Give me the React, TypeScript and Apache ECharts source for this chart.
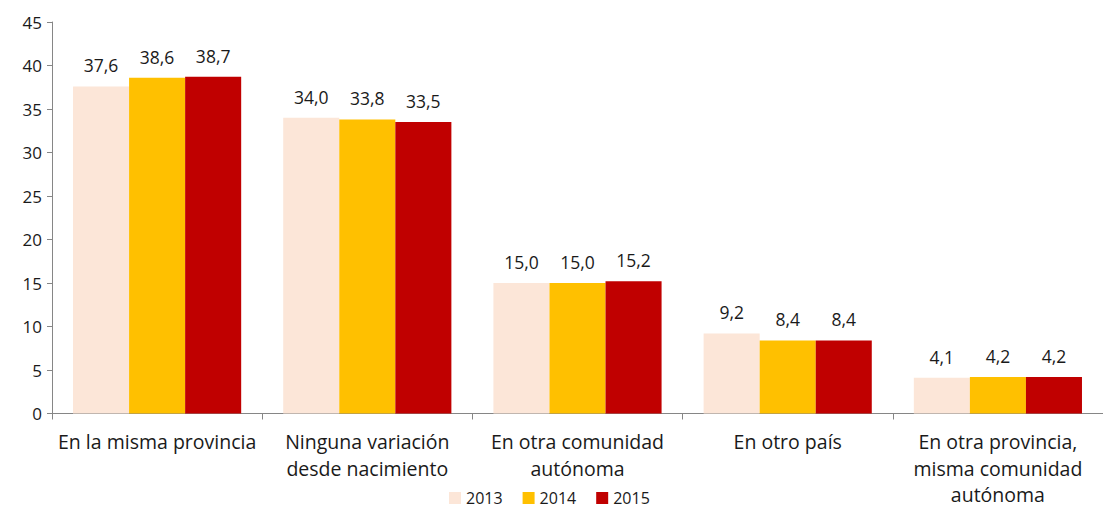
import React, { useEffect, useRef } from "react";
import * as echarts from "echarts";

const categories = [
  "En la misma provincia",
  "Ninguna variación\ndesde nacimiento",
  "En otra comunidad\nautónoma",
  "En otro país",
  "En otra provincia,\nmisma comunidad\nautónoma",
];
const years = ["2013", "2014", "2015"];
const values2013 = [37.6, 34.0, 15.0, 9.2, 4.1];
const values2014 = [38.6, 33.8, 15.0, 8.4, 4.2];
const values2015 = [38.7, 33.5, 15.2, 8.4, 4.2];
const colors = ["#FCE6D8", "#FFC000", "#C00000"];

const FONT = "'Open Sans', 'Noto Sans', sans-serif";

export default function App() {
  const ref = useRef<HTMLDivElement>(null);
  useEffect(() => {
    if (!ref.current) return;
    const chart = echarts.init(ref.current, null, { renderer: "svg" });
    const seriesData = [values2013, values2014, values2015];
    chart.setOption({
      animation: false,
      backgroundColor: "#ffffff",
      grid: { left: 52, top: 22, bottom: 94, width: 1063, containLabel: false },
      legend: {
        left: 449,
        top: 490,
        padding: 0,
        itemWidth: 12,
        itemHeight: 12,
        itemGap: 20,
        icon: "rect",
        textStyle: { fontFamily: FONT, fontSize: 16, lineHeight: 16, color: "#1a1a1a" },
        data: years,
      },
      xAxis: {
        type: "category",
        data: categories,
        axisLine: { lineStyle: { color: "#868686", width: 1 } },
        axisTick: { show: true, length: 6, lineStyle: { color: "#868686" } },
        axisLabel: {
          fontFamily: FONT,
          fontSize: 19.5,
          color: "#1a1a1a",
          lineHeight: 26.5,
          margin: 15,
          interval: 0,
        },
      },
      yAxis: {
        type: "value",
        min: 0,
        max: 45,
        interval: 5,
        axisLine: { show: true, lineStyle: { color: "#868686", width: 1 } },
        axisTick: { show: true, length: 5, lineStyle: { color: "#868686" } },
        splitLine: { show: false },
        axisLabel: { fontFamily: FONT, fontSize: 17, color: "#1a1a1a", margin: 10 },
      },
      series: years.map((y, i) => ({
        name: y,
        type: "bar",
        data: seriesData[i],
        barGap: "0%",
        barCategoryGap: "20%",
        itemStyle: { color: colors[i] },
        label: {
          show: true,
          position: "top",
          distance: 12,
          fontFamily: FONT,
          fontSize: 17.5,
          color: "#1a1a1a",
          formatter: (p: any) => p.value.toFixed(1).replace(".", ","),
        },
      })),
    });
    return () => chart.dispose();
  }, []);
  return (
    <div
      ref={ref}
      style={{ position: "absolute", left: 0, top: 0, width: 1103, height: 508 }}
    />
  );
}
